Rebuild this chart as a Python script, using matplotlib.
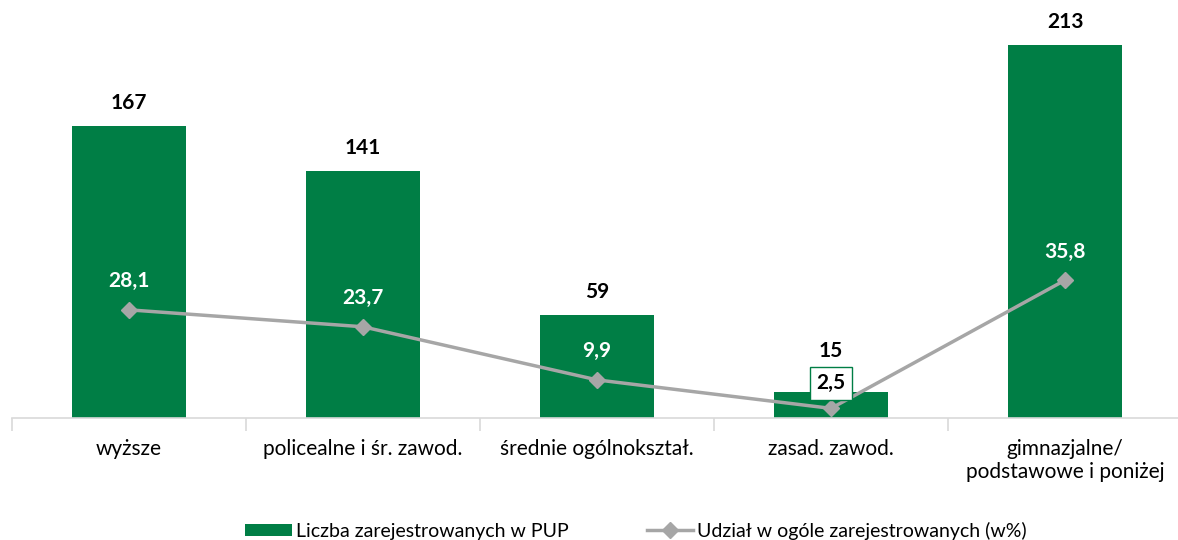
import numpy as np
import matplotlib.pyplot as plt
from matplotlib.ticker import FixedLocator

# data
categories = ['wyższe', 'policealne i śr. zawod.', 'średnie ogólnokształ.',
              'zasad. zawod.', 'gimnazjalne/\npodstawowe i poniżej']
registered = [167, 141, 59, 15, 213]
share = [28.1, 23.7, 9.9, 2.5, 35.8]
share_labels = ['28,1', '23,7', '9,9', '2,5', '35,8']

green = '#007E45'
grey = '#A6A6A6'

plt.rcParams['font.family'] = ['Lato', 'DejaVu Sans']

fig = plt.figure(figsize=(11.78, 5.4), dpi=100)
ax = fig.add_axes([12 / 1178, 1 - 418 / 540, 1170 / 1178, 408 / 540])
ax2 = ax.twinx()

x = np.arange(len(categories))
ax.bar(x, registered, width=0.49, color=green, zorder=2,
       label='Liczba zarejestrowanych w PUP')
ax.set_xlim(-0.5, 4.5)
ax.set_ylim(0, 233)

for i, (xi, v) in enumerate(zip(x, registered)):
    off = 29 if i == 3 else 16.5
    ax.annotate(str(v), (xi, v), xytext=(0, off), textcoords='offset points',
                ha='center', va='center', fontsize=15, fontweight='bold', color='black')

ax2.plot(x, share, color=grey, lw=2.5, marker='D', markersize=8,
         markerfacecolor=grey, markeredgecolor=grey, zorder=3,
         label='Udział w ogóle zarejestrowanych (w%)')
ax2.set_ylim(0, 106)

for i, (xi, v, lab) in enumerate(zip(x, share, share_labels)):
    if i == 3:
        ax2.annotate(lab, (xi, v), xytext=(0, 18), textcoords='offset points',
                     ha='center', va='center', fontsize=15, fontweight='bold',
                     color='black',
                     bbox=dict(boxstyle='square,pad=0.3', fc='white', ec=green, lw=1))
    else:
        ax2.annotate(lab, (xi, v), xytext=(0, 20.5), textcoords='offset points',
                     ha='center', va='center', fontsize=15, fontweight='bold',
                     color='white')

# axes styling
for a in (ax, ax2):
    for s in ['top', 'right', 'left']:
        a.spines[s].set_visible(False)
    a.set_yticks([])
ax2.spines['bottom'].set_visible(False)
ax.spines['bottom'].set_color('#D9D9D9')
ax.spines['bottom'].set_linewidth(1.2)

ax.set_xticks(x)
ax.set_xticklabels(categories, fontsize=15)
ax.tick_params(axis='x', which='major', length=0, pad=15)
ax.xaxis.set_minor_locator(FixedLocator(np.arange(-0.5, 5.0, 1.0)))
ax.tick_params(axis='x', which='minor', length=9, color='#D9D9D9', width=1.2)

h1, l1 = ax.get_legend_handles_labels()
h2, l2 = ax2.get_legend_handles_labels()
fig.legend(h1 + h2, l1 + l2, loc='lower center', bbox_to_anchor=(0.54, -0.032),
           ncol=2, frameon=False, fontsize=14, columnspacing=4,
           handlelength=2.4, handletextpad=0.2, handleheight=0.6)

fig.savefig('out.png', dpi=100)
